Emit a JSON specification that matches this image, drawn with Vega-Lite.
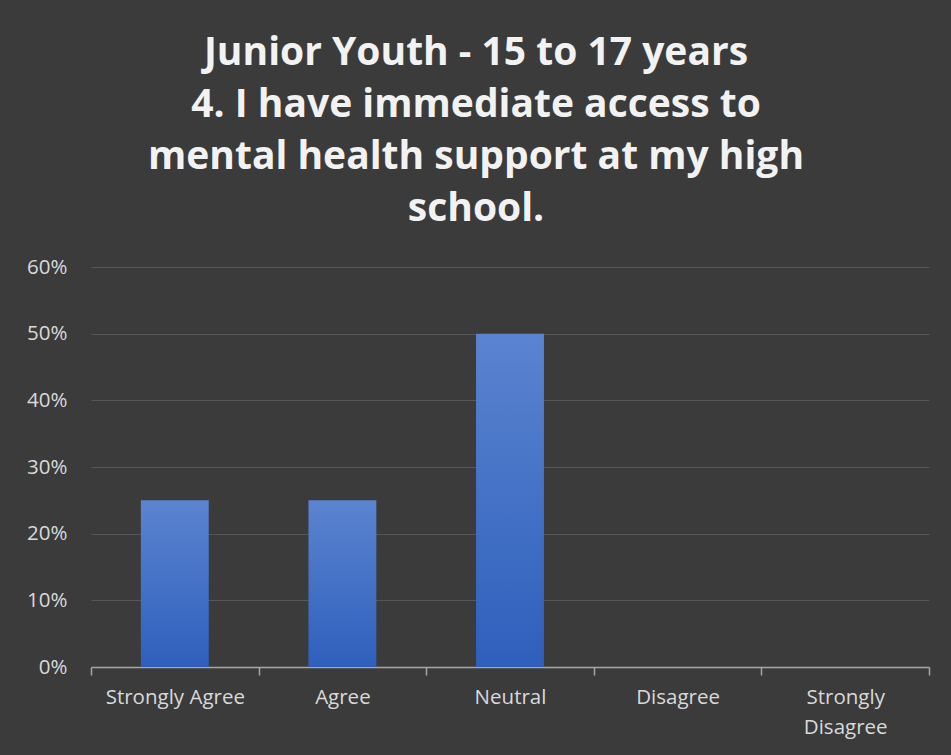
{
  "$schema": "https://vega.github.io/schema/vega-lite/v6.json",
  "width": 838,
  "height": 400,
  "autosize": "none",
  "padding": {"left": 91, "top": 267, "right": 22, "bottom": 88},
  "background": "#3b3b3b",
  "title": {
    "text": ["Junior Youth - 15 to 17 years", "4. I have immediate access to", "mental health support at my high", "school."],
    "font": "Open Sans",
    "fontSize": 39,
    "fontWeight": "bold",
    "color": "#f2f2f2",
    "lineHeight": 52,
    "anchor": "middle",
    "frame": "group",
    "dx": -34,
    "offset": 28
  },
  "data": {
    "values": [
      {"response": "Strongly Agree", "pct": 0.25},
      {"response": "Agree", "pct": 0.25},
      {"response": "Neutral", "pct": 0.5},
      {"response": "Disagree", "pct": 0},
      {"response": "Strongly Disagree", "pct": 0}
    ]
  },
  "mark": {
    "type": "bar",
    "width": {"band": 0.405},
    "color": {
      "gradient": "linear",
      "x1": 0, "y1": 0, "x2": 0, "y2": 1,
      "stops": [
        {"offset": 0, "color": "#5b84d0"},
        {"offset": 1, "color": "#2e5fbc"}
      ]
    }
  },
  "encoding": {
    "x": {
      "field": "response",
      "type": "nominal",
      "sort": null,
      "scale": {"paddingInner": 0, "paddingOuter": 0},
      "axis": {
        "title": null,
        "labelAngle": 0,
        "labelFont": "Open Sans",
        "labelFontSize": 20.5,
        "labelColor": "#d9d9d9",
        "labelPadding": 12,
        "labelLineHeight": 30,
        "labelExpr": "datum.label == 'Strongly Disagree' ? ['Strongly', 'Disagree'] : datum.label",
        "tickBand": "extent",
        "ticks": true,
        "tickSize": 8,
        "tickColor": "#a6a6a6",
        "tickWidth": 1.5,
        "domainColor": "#a6a6a6",
        "domainWidth": 1.5,
        "grid": false
      }
    },
    "y": {
      "field": "pct",
      "type": "quantitative",
      "scale": {"domain": [0, 0.6]},
      "axis": {
        "title": null,
        "format": ".0%",
        "values": [0, 0.1, 0.2, 0.3, 0.4, 0.5, 0.6],
        "labelOverlap": false,
        "labelFont": "Open Sans",
        "labelFontSize": 20.5,
        "labelColor": "#d9d9d9",
        "labelPadding": 24,
        "ticks": false,
        "domain": false,
        "grid": true,
        "gridColor": "#575757",
        "gridWidth": 1
      }
    }
  },
  "config": {
    "view": {"stroke": null}
  }
}
